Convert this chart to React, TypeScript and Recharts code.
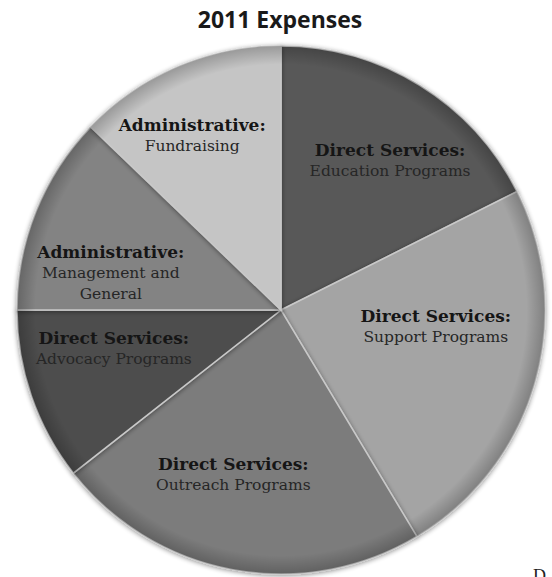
import { PieChart, Pie, Cell } from "recharts";

const categories = [
  "Education Programs",
  "Support Programs",
  "Outreach Programs",
  "Advocacy Programs",
  "Management and General",
  "Fundraising",
];
const groups = [
  "Direct Services:",
  "Direct Services:",
  "Direct Services:",
  "Direct Services:",
  "Administrative:",
  "Administrative:",
];
// share of 2011 expenses, percent
const shares = [17.6, 23.8, 23.0, 10.6, 12.2, 12.8];

const COLORS = ["#595959", "#a4a4a4", "#7b7b7b", "#4e4e4e", "#838383", "#c5c5c5"];
// label placement tweaks: [radius fraction, angle shift in degrees]
const LABEL_POS: [number, number][] = [
  [0.7, -4.5],
  [0.59, 10],
  [0.65, -5.7],
  [0.65, -6],
  [0.66, 9.6],
  [0.74, 4],
];
const LABEL_LINES: string[][] = [
  ["Education Programs"],
  ["Support Programs"],
  ["Outreach Programs"],
  ["Advocacy Programs"],
  ["Management and", "General"],
  ["Fundraising"],
];

const data = categories.map((name, i) => ({ name, group: groups[i], value: shares[i] }));
const rim = [{ name: "rim", value: 1 }];

const RADIAN = Math.PI / 180;

function SliceLabel(props: any) {
  const { cx, cy, midAngle, outerRadius, index } = props;
  const [rf, shift] = LABEL_POS[index];
  const a = (midAngle + shift) * RADIAN;
  const x = cx + outerRadius * rf * Math.cos(a);
  const y = cy - outerRadius * rf * Math.sin(a);
  const lines = [data[index].group, ...LABEL_LINES[index]];
  const lh = 21;
  const top = y - ((lines.length - 1) * lh) / 2;
  return (
    <text
      x={x}
      y={top}
      textAnchor="middle"
      dominantBaseline="central"
      fill="#1c1c1c"
      style={{ fontFamily: "'DejaVu Serif', serif" }}
    >
      {lines.map((l, k) => (
        <tspan
          key={k}
          x={x}
          dy={k === 0 ? 0 : lh}
          fontWeight={k === 0 ? "bold" : "normal"}
          fontSize={k === 0 ? 17 : 15.5}
          fill={k === 0 ? "#151515" : "#262626"}
        >
          {l}
        </tspan>
      ))}
    </text>
  );
}

export default function App() {
  return (
    <div
      style={{
        position: "fixed",
        left: 0,
        top: 0,
        width: 552,
        height: 577,
        background: "#fff",
        overflow: "hidden",
      }}
    >
      <div
        style={{
          position: "absolute",
          top: 3,
          width: 560,
          left: 0,
          textAlign: "center",
          fontFamily: "'Open Sans', sans-serif",
          fontWeight: "bold",
          fontSize: 23,
          color: "#1a1a1a",
        }}
      >
        2011 Expenses
      </div>
      <PieChart
        width={552}
        height={577}
        margin={{ top: 0, right: 0, bottom: 0, left: 0 }}
        style={{ position: "absolute", left: 0, top: 0 }}
      >
        <defs>
          <filter id="shadow" x="-10%" y="-10%" width="120%" height="120%">
            <feGaussianBlur in="SourceAlpha" stdDeviation="2.5" result="b" />
            <feOffset in="b" dx="0" dy="1" result="o" />
            <feComponentTransfer in="o" result="s">
              <feFuncA type="linear" slope="0.45" />
            </feComponentTransfer>
            <feMerge>
              <feMergeNode in="s" />
              <feMergeNode in="SourceGraphic" />
            </feMerge>
          </filter>
          <radialGradient id="rimShade" cx="50%" cy="50%" r="50%">
            <stop offset="0%" stopColor="#000" stopOpacity={0} />
            <stop offset="93%" stopColor="#000" stopOpacity={0} />
            <stop offset="100%" stopColor="#000" stopOpacity={0.22} />
          </radialGradient>
        </defs>
        <Pie
          data={data}
          dataKey="value"
          nameKey="name"
          cx={281}
          cy={310}
          outerRadius={264}
          startAngle={90}
          endAngle={-270}
          stroke="#c9c9c9"
          strokeWidth={1.5}
          labelLine={false}
          isAnimationActive={false}
          style={{ filter: "url(#shadow)" }}
        >
          {data.map((_, i) => (
            <Cell key={`cell-${i}`} fill={COLORS[i]} />
          ))}
        </Pie>
        <Pie
          data={rim}
          dataKey="value"
          cx={281}
          cy={310}
          outerRadius={264}
          startAngle={90}
          endAngle={-270}
          stroke="none"
          fill="url(#rimShade)"
          isAnimationActive={false}
          style={{ pointerEvents: "none" }}
        />
        <Pie
          data={data}
          dataKey="value"
          nameKey="name"
          cx={281}
          cy={310}
          outerRadius={264}
          startAngle={90}
          endAngle={-270}
          fill="none"
          stroke="none"
          label={SliceLabel}
          labelLine={false}
          isAnimationActive={false}
        />
      </PieChart>
      <div
        style={{
          position: "absolute",
          left: 533,
          top: 566,
          fontFamily: "'Liberation Serif', serif",
          fontSize: 18,
          color: "#222",
        }}
      >
        D
      </div>
    </div>
  );
}
